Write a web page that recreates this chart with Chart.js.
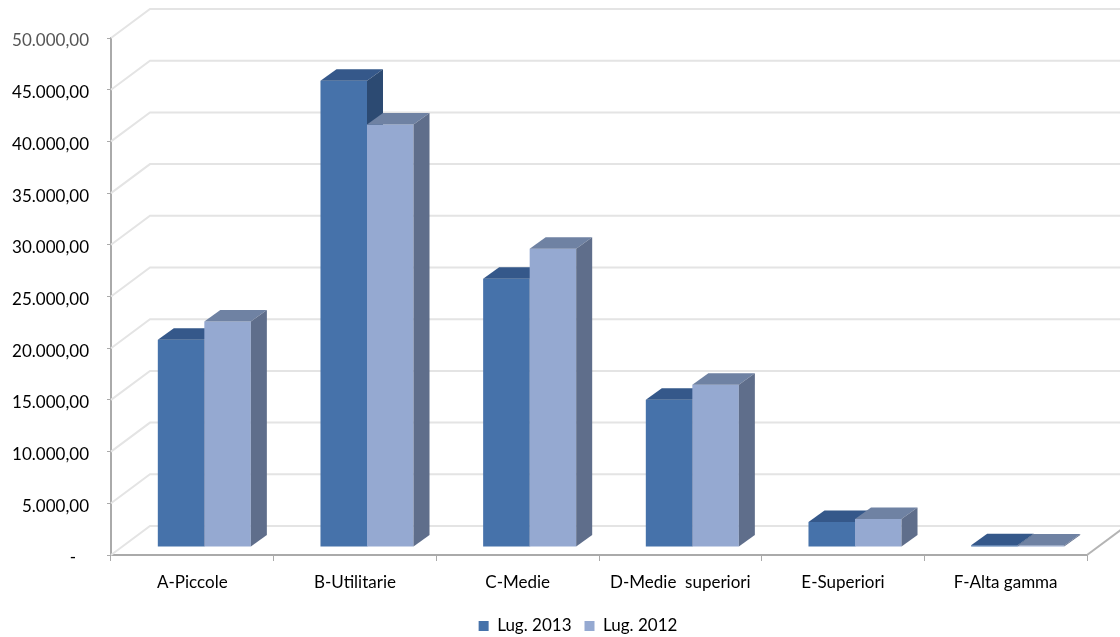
<!DOCTYPE html>
<html>
<head>
<meta charset="utf-8">
<style>
html,body{margin:0;padding:0;background:#fff}
#wrap{position:absolute;left:0;top:0;width:1120px;height:637px}
</style>
<script src="https://cdn.jsdelivr.net/npm/chart.js@4/dist/chart.umd.min.js"></script>
</head>
<body>
<div id="wrap"><canvas id="c" width="1120" height="637"></canvas></div>
<script>
const categories = ['A-Piccole','B-Utilitarie','C-Medie','D-Medie  superiori','E-Superiori','F-Alta gamma'];
const lug2013 = [20050, 45100, 25950, 14250, 2420, 180];
const lug2012 = [21800, 40850, 28850, 15700, 2720, 150];
const yTickLabels = ['-   ','5.000,00','10.000,00','15.000,00','20.000,00','25.000,00','30.000,00','35.000,00','40.000,00','45.000,00','50.000,00'];

// Offsets of the extruded look, in canvas pixels
const WALL = {dx: 39, dy: 29};      // back wall relative to the axis plane
const BAR_POS = {dx: 12, dy: -8};   // bars stand partway into the floor
const BAR_DEPTH = {dx: 16, dy: 11.5};
const LEGEND_SHIFT = {dx: 34.5, dy: 7.5};

const faces = [
  {front:'#4672aa', top:'#35588a', side:'#2c4a72'},
  {front:'#95a9d1', top:'#6f82a3', side:'#5f6e8b'}
];

function drawWalls(chart) {
  const {ctx, chartArea: a, scales: {y}} = chart;
  ctx.save();
  ctx.lineWidth = 2;
  ctx.strokeStyle = '#e4e4e4';
  for (const t of y.ticks) {
    const py = y.getPixelForValue(t.value);
    ctx.beginPath();
    ctx.moveTo(a.left, py);
    ctx.lineTo(a.left + WALL.dx, py - WALL.dy);
    ctx.lineTo(a.right + WALL.dx, py - WALL.dy);
    ctx.stroke();
  }
  ctx.strokeStyle = '#b4b4b4';
  ctx.beginPath();
  ctx.moveTo(a.right, a.bottom);
  ctx.lineTo(a.right + WALL.dx, a.bottom - WALL.dy);
  ctx.stroke();
  ctx.restore();
}

function drawFaces(ctx, meta, f) {
  for (const el of meta.data) {
    const {x, y, base, width} = el.getProps(['x','y','base','width'], true);
    const l = x - width / 2, r = x + width / 2;
    const {dx, dy} = BAR_DEPTH;
    ctx.fillStyle = f.top;
    ctx.beginPath();
    ctx.moveTo(l, y); ctx.lineTo(l + dx, y - dy); ctx.lineTo(r + dx, y - dy); ctx.lineTo(r, y);
    ctx.closePath(); ctx.fill();
    ctx.fillStyle = f.side;
    ctx.beginPath();
    ctx.moveTo(r, y); ctx.lineTo(r + dx, y - dy); ctx.lineTo(r + dx, base - dy); ctx.lineTo(r, base);
    ctx.closePath(); ctx.fill();
  }
}

const box3d = {
  id: 'box3d',
  afterLayout(chart) {
    const lg = chart.legend;
    lg.left += LEGEND_SHIFT.dx; lg.right += LEGEND_SHIFT.dx;
    lg.top += LEGEND_SHIFT.dy; lg.bottom += LEGEND_SHIFT.dy;
  },
  beforeDatasetsDraw(chart) {
    drawWalls(chart);
    // the left series goes first so the right one overlaps its side face
    const ctx = chart.ctx;
    ctx.save();
    ctx.translate(BAR_POS.dx, BAR_POS.dy);
    chart.data.datasets.forEach((ds, i) => {
      const meta = chart.getDatasetMeta(i);
      meta.controller.draw();
      drawFaces(ctx, meta, faces[i]);
    });
    ctx.restore();
    return false;
  }
};

new Chart(document.getElementById('c'), {
  type: 'bar',
  plugins: [box3d],
  data: {
    labels: categories,
    datasets: [
      {label:'Lug. 2013', data: lug2013, backgroundColor: faces[0].front},
      {label:'Lug. 2012', data: lug2012, backgroundColor: faces[1].front}
    ]
  },
  options: {
    responsive: false,
    animation: false,
    layout: {padding: {left: 0, right: 33, top: 38, bottom: 0}},
    datasets: {bar: {categoryPercentage: 0.572, barPercentage: 1, borderWidth: 0}},
    scales: {
      x: {
        offset: true,
        border: {color: '#aaaaaa', width: 2},
        grid: {display: true, drawOnChartArea: false, drawTicks: true, tickLength: 6, tickColor: '#aaaaaa', offset: true},
        ticks: {color: '#000', font: {family: 'Lato', size: 17}, padding: 11, maxRotation: 0, autoSkip: false},
        afterFit(s) { s.height = 42; }
      },
      y: {
        min: 0, max: 50000,
        border: {color: '#aaaaaa', width: 2},
        grid: {display: true, drawOnChartArea: false, drawTicks: true, tickLength: 4, tickColor: '#aaaaaa'},
        ticks: {
          stepSize: 5000,
          padding: 18,
          labelOffset: 3,
          font: {family: 'Lato', size: 17},
          color: c => c.tick && c.tick.value === 50000 ? '#555' : '#000',
          callback: v => yTickLabels[v / 5000]
        },
        afterFit(s) { s.width = 111; }
      }
    },
    plugins: {
      tooltip: {enabled: false},
      legend: {
        position: 'bottom',
        labels: {color: '#000', font: {family: 'Lato', size: 17}, boxWidth: 10, boxHeight: 10, padding: 13}
      }
    }
  }
});
</script>
</body>
</html>
